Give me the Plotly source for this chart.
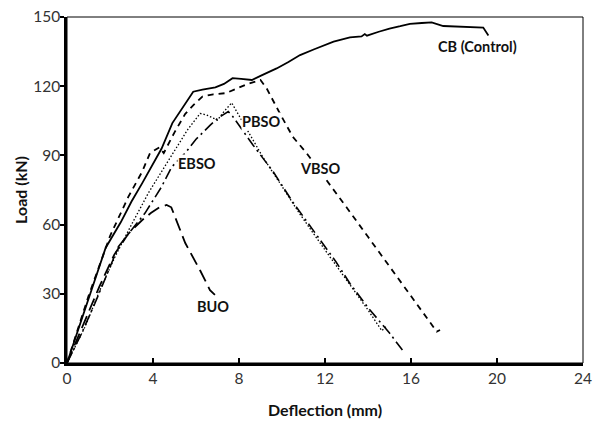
import plotly.graph_objects as go

# CB (Control) - solid
cb_x = [0, 0.5, 1.0, 1.5, 1.8, 2.5, 3.0, 3.5, 4.0, 4.4, 4.9, 5.4, 5.87, 6.3, 6.9, 7.3, 7.7, 8.1, 8.6,
        9.0, 9.5, 9.75, 10.3, 10.84, 11.5, 12.4, 13.16, 13.7, 13.85, 13.95, 14.5, 15.0, 15.5, 15.95,
        16.5, 16.96, 17.5, 18.0, 18.7, 19.36, 19.6]
cb_y = [0, 14, 28, 42, 50, 61, 70, 78, 86, 93, 104, 111, 117.6, 118.5, 119.5, 121, 123.5, 123.2, 122.7,
        124.5, 126.5, 127.7, 130.5, 133.5, 136, 139.3, 141.2, 141.6, 142.6, 141.9, 143.6, 145, 146, 147,
        147.4, 147.7, 146.1, 145.9, 145.8, 145.4, 142]

# VBSO - short dashes
vb_x = [0, 0.5, 1.0, 1.5, 2.0, 2.85, 3.5, 3.86, 4.3, 4.5, 5.0, 5.5, 5.9, 6.3, 6.8, 7.4, 7.9, 8.4, 9.0,
        9.29, 9.9, 10.5, 11.15, 12.19, 13.0, 14.0, 15.0, 16.0, 17.2, 17.35]
vb_y = [0, 15, 29, 42, 55, 72, 83, 91, 93.5, 91, 100, 108, 112, 115.5, 116.5, 117, 119, 121, 122.7,
        119, 108.2, 98.1, 90.9, 77.9, 67.5, 54.7, 41.9, 29.1, 13.6, 14.3]

# EBSO - dotted
eb_x = [0, 0.84, 1.53, 2.23, 3.0, 3.78, 4.4, 5.0, 5.6, 6.19, 6.5, 7.0, 7.3, 7.66, 8.36, 9.1, 9.9,
        10.8, 12.0, 13.16, 14.0, 14.64, 14.86]
eb_y = [0, 15.7, 31.6, 46, 60, 73.6, 83, 92.3, 101, 108.2, 107.5, 105.3, 109, 112.8, 101.7, 89.4, 78,
        65, 49, 34, 23, 14, 16]

# PBSO - dash-dot
pb_x = [0, 0.68, 1.3, 2.08, 2.39, 3.0, 3.63, 4.4, 4.87, 5.5, 6.0, 6.65, 7.0, 7.5, 7.7, 8.65, 9.6,
        10.5, 11.5, 12.5, 13.16, 14.0, 15.0, 15.6]
pb_y = [0, 12.9, 25.9, 43.2, 50.4, 57.7, 65, 76.4, 85, 91, 97, 103, 106, 109, 107, 94.5, 82.8,
        69.8, 57, 44, 34.5, 24, 13, 5.6]

# BUO - long dashes
bu_x = [0, 0.8, 1.5, 2.2, 2.85, 3.5, 3.9, 4.3, 4.63, 4.85, 5.5, 6.2, 6.65, 6.88]
bu_y = [0, 18, 33, 47, 56, 62, 65, 67.5, 68.5, 67.5, 52, 40, 31.6, 29.5]

labels = ["CB (Control)", "VBSO", "PBSO", "EBSO", "BUO"]
label_x = [19.07, 11.8, 9.02, 6.03, 6.79]
label_y = [137, 84.4, 104.6, 86.6, 24.4]

x_ticks = [0, 4, 8, 12, 16, 20, 24]
y_ticks = [0, 30, 60, 90, 120, 150]

fig = go.Figure()
series = [
    (cb_x, cb_y, "CB (Control)", "solid", 1.8),
    (vb_x, vb_y, "VBSO", "6px,5px", 1.8),
    (eb_x, eb_y, "EBSO", "1.5px,2px", 1.3),
    (pb_x, pb_y, "PBSO", "11px,4px,2px,4px", 1.6),
    (bu_x, bu_y, "BUO", "13px,6px", 1.8),
]
for xs, ys, name, dash, w in series:
    fig.add_trace(go.Scatter(x=xs, y=ys, mode="lines", name=name,
                             line=dict(color="black", width=w, dash=dash)))

for t, xx, yy in zip(labels, label_x, label_y):
    fig.add_annotation(x=xx, y=yy, text="<b>" + t + "</b>", showarrow=False,
                       bgcolor="white", borderpad=0,
                       font=dict(family="Lato, Open Sans, sans-serif", size=14.5, color="#111"))

# thin frame
fig.add_shape(type="rect", xref="paper", yref="paper", x0=0, y0=0, x1=1, y1=1,
              line=dict(color="black", width=1))

fig.update_layout(
    width=597, height=421,
    margin=dict(l=67, r=14, t=17, b=58),
    plot_bgcolor="white", paper_bgcolor="white",
    showlegend=False,
    font=dict(family="Lato, Open Sans, sans-serif", color="#333"),
    xaxis=dict(range=[0, 24], tickvals=x_ticks, ticks="inside", ticklen=5, tickwidth=2,
               tickcolor="black", showgrid=False, zeroline=False, showline=True, automargin=False,
               linecolor="black", linewidth=2.5, tickfont=dict(size=15.5, color="#333"),
               title=dict(text="<b>Deflection (mm)</b>", font=dict(size=16, color="#111"), standoff=19)),
    yaxis=dict(range=[0, 150], tickvals=y_ticks, ticks="outside", ticklen=4, tickwidth=2,
               tickcolor="black", showgrid=False, zeroline=False, showline=True, automargin=False,
               ticklabelstandoff=-3,
               linecolor="black", linewidth=2.5, tickfont=dict(size=15.5, color="#333"),
               title=dict(text="<b>Load (kN)</b>", font=dict(size=16, color="#111"), standoff=2)),
)

fig.write_html("out.html", config={"displayModeBar": False},
               post_script="document.body.style.margin='0';document.body.style.padding='0';")
